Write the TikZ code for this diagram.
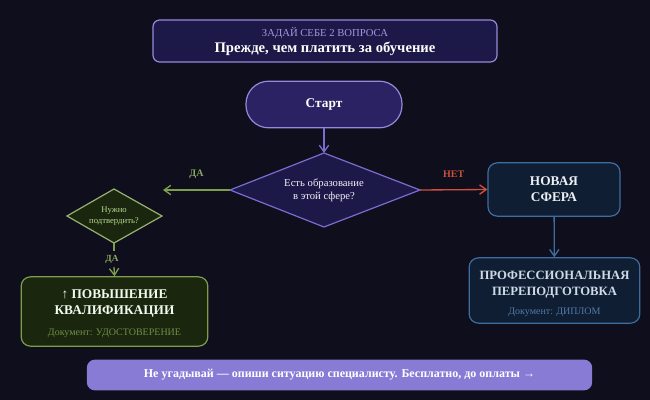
\documentclass[tikz,border=0pt]{standalone}
\usepackage{fontspec}
\setmainfont{Liberation Serif}
\usetikzlibrary{shapes.geometric,arrows.meta}
\definecolor{bg}{HTML}{0E0E1C}
\definecolor{lav}{HTML}{7A6CD0}
\definecolor{ind}{HTML}{2A2262}
\definecolor{dind}{HTML}{1C1848}
\definecolor{grn}{HTML}{7E9E4C}
\definecolor{dgrn}{HTML}{1A260E}
\definecolor{lgrn}{HTML}{B8D890}
\definecolor{blu}{HTML}{3E6C9E}
\definecolor{dblu}{HTML}{0F1E33}
\definecolor{red}{HTML}{D0503E}
\begin{document}
\begin{tikzpicture}[x=0.75pt,y=-0.75pt,
 box/.style={draw,rounded corners=7pt,line width=0.9pt,align=center,inner sep=0pt},
 arr/.style={-{Straight Barb[length=5pt,width=7pt]},line width=1pt}]
\fill[bg] (0,0) rectangle (650,400);
\useasboundingbox (0,0) rectangle (650,400);
\node[box,fill=dind,draw=lav!80,minimum width=258pt,minimum height=31.5pt,rounded corners=5pt] (title) at (325,41) {};
\node[text=lav!70!white,font=\fontsize{8}{9}\selectfont] (t1) at (325,33) {ЗАДАЙ СЕБЕ 2 ВОПРОСА};
\node[text=white,font=\bfseries\fontsize{11}{12}\selectfont] (t2) at (325,49) {Прежде, чем платить за обучение};
\node[box,fill=ind,draw=lav!80,minimum width=117pt,minimum height=35pt,rounded corners=17pt,text=white,font=\bfseries\fontsize{10}{12}\selectfont] (start) at (324,104.5) {Старт};
% main diamond
\coordinate (q1n) at (324,153); \coordinate (q1s) at (324,227);
\coordinate (q1w) at (230,190); \coordinate (q1e) at (420,190);
\draw[draw=lav,fill=dind,line width=0.9pt] (q1n) -- (q1e) -- (q1s) -- (q1w) -- cycle;
\node[align=center,text=white!90!lav,font=\fontsize{8}{10}\selectfont] (q1) at (324,190) {Есть образование\\в этой сфере?};
\node[box,fill=dblu,draw=blu,minimum width=99pt,minimum height=40pt,text=white!90!blu,font=\bfseries\fontsize{10}{12}\selectfont] (new) at (554,189.5) {НОВАЯ\\СФЕРА};
\node[box,fill=dblu,draw=blu,minimum width=128pt,minimum height=49pt] (pro) at (554.5,290.5) {};
\node[text=white!75!blu,font=\bfseries\fontsize{9.5}{12}\selectfont,align=center] (prot) at (554.5,285) {ПРОФЕССИОНАЛЬНАЯ\\ПЕРЕПОДГОТОВКА};
\node[text=blu!90!white,font=\fontsize{7.5}{9}\selectfont] (prod) at (554.5,312) {Документ: ДИПЛОМ};
% small diamond
\coordinate (q2n) at (114,189); \coordinate (q2s) at (114,243);
\coordinate (q2w) at (67,216); \coordinate (q2e) at (162,216);
\draw[draw=grn!80,fill=dgrn,line width=0.9pt] (q2n) -- (q2e) -- (q2s) -- (q2w) -- cycle;
\node[align=center,text=lgrn,font=\fontsize{6.5}{8.5}\selectfont] (q2) at (114,216) {Нужно\\подтвердить?};
\node[box,fill=dgrn,draw=grn,minimum width=140pt,minimum height=52pt] (up) at (114.5,311.5) {};
\node[text=white!85!lgrn,font=\bfseries\fontsize{10}{12}\selectfont,align=center] (upt) at (114.5,304) {↑ ПОВЫШЕНИЕ\\КВАЛИФИКАЦИИ};
\node[text=grn!90!black,font=\fontsize{7.5}{9}\selectfont] (upd) at (114.5,333) {Документ: УДОСТОВЕРЕНИЕ};
\node[box,fill=lav!90!white,draw=none,minimum width=379pt,minimum height=23pt,rounded corners=6pt,text=white,font=\bfseries\fontsize{9}{11}\selectfont] (cta) at (339.5,375) {Не угадывай — опиши ситуацию специалисту. Бесплатно, до оплаты →};
\coordinate (lend) at (163,190);
\draw[arr,draw=lav] (start) -- (q1n);
\draw[arr,draw=grn] (q1w) -- (lend) node[midway,above=5pt,text=grn!90!white,font=\bfseries\fontsize{7.5}{9}\selectfont]{ДА};
\draw[arr,draw=red] (q1e) -- (new.west) node[midway,above=5pt,text=red,font=\bfseries\fontsize{7.5}{9}\selectfont]{НЕТ};
\draw[arr,draw=blu] (new) -- (pro);
\draw[line width=1pt,draw=grn] (q2s) -- (114,251);
\node[text=grn!90!white,font=\bfseries\fontsize{7}{8}\selectfont] (da2) at (112,259) {ДА};
\coordinate (dtop) at (114,267);
\draw[arr,draw=grn] (dtop) -- (up.north);
\end{tikzpicture}
\end{document}
